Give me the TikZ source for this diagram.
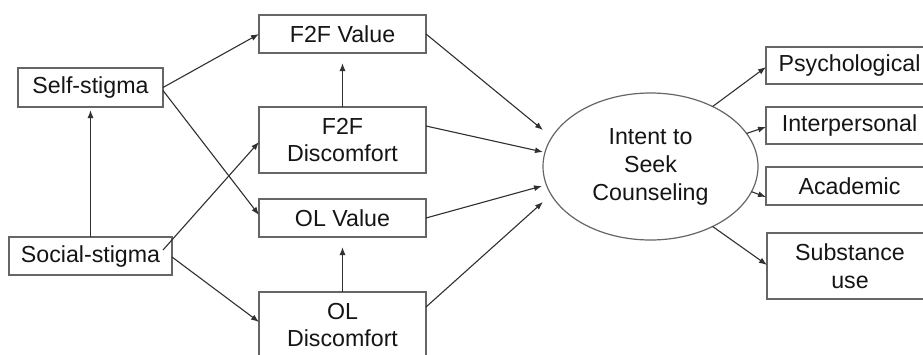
\documentclass[tikz,border=0pt]{standalone}
\usepackage{fontspec}
\setmainfont{Liberation Sans}
\usetikzlibrary{arrows.meta,shapes.geometric}
\definecolor{edgegray}{HTML}{666666}
\definecolor{linegray}{HTML}{303030}
\definecolor{txtgray}{HTML}{151515}
\begin{document}
\begin{tikzpicture}[x=1pt,y=-1pt,
  box/.style={draw=edgegray,line width=1.2pt,fill=white,inner sep=0pt,outer sep=0pt,
    align=center,text=txtgray,font=\fontsize{23.2}{27.5}\selectfont},
  latent/.style={ellipse,draw=edgegray,line width=1.2pt,fill=white,inner sep=0pt,outer sep=0pt,
    minimum width=215pt,minimum height=147pt,align=center,text=txtgray,
    font=\fontsize{23.2}{28}\selectfont},
  path/.style={draw=linegray,line width=1.1pt,-{Latex[length=8pt,width=6pt]}}]
\useasboundingbox (0,0) rectangle (923,354);

% predictors
\node[box,minimum width=145pt,minimum height=39pt] (self) at (90.5,87.5) {Self-stigma};
\node[box,minimum width=163pt,minimum height=38pt] (social) at (90.5,256) {Social-stigma};

% mediators
\node[box,minimum width=167pt,minimum height=38pt] (f2fv) at (342.5,34) {F2F Value};
\node[box,minimum width=167pt,minimum height=66pt] (f2fd) at (342.5,140) {F2F\\Discomfort};
\node[box,minimum width=167pt,minimum height=38pt] (olv) at (342.5,218) {OL Value};
\node[box,minimum width=167pt,minimum height=66pt] (old) at (342.5,325) {OL\\Discomfort};

% outcome (latent)
\node[latent] (intent) at (650.5,166.5) {Intent to\\Seek\\Counseling};

% indicators
\node[box,minimum width=167pt,minimum height=37pt] (psy) at (849.5,65.5) {Psychological};
\node[box,minimum width=167pt,minimum height=37pt] (inter) at (849.5,125.5) {Interpersonal};
\node[box,minimum width=167pt,minimum height=38pt] (acad) at (849.5,186) {Academic};
\node[box,minimum width=166pt,minimum height=66pt] (subs) at (850,266) {Substance\\use};

% arrow ends in front of the ellipse
\coordinate (in1) at (543,130);
\coordinate (in2) at (543,152);
\coordinate (in3) at (542,186);
\coordinate (in4) at (543,202);

% stigma paths
\draw[path] (self.east) -- (f2fv.west);
\draw[path] ([yshift=-3pt]self.east) -- ([yshift=3pt]olv.west);
\draw[path,shorten >=3pt] (social.north) -- (self.south);
\draw[path] ([shift={(-9pt,6pt)}]social.east) -- ([yshift=-2pt]f2fd.west);
\draw[path] ([yshift=-1pt]social.east) -- ([yshift=3pt]old.west);

% discomfort to value
\draw[path,shorten >=10pt] (f2fd.north) -- (f2fv.south);
\draw[path,shorten >=10pt] (old.north) -- (olv.south);

% mediators to intent
\draw[path] (f2fv.east) -- (in1);
\draw[path] ([yshift=14pt]f2fd.east) -- (in2);
\draw[path] (olv.east) -- (in3);
\draw[path] ([yshift=18pt]old.east) -- (in4);

% intent to indicators
\draw[path] (intent.44.5) -- ([yshift=-1.5pt]psy.west);
\draw[path] (intent.19.7) -- ([yshift=-1.5pt]inter.west);
\draw[path] (intent.-14.5) -- ([yshift=-11pt]acad.west);
\draw[path] (intent.-44.5) -- ([yshift=1pt]subs.west);
\end{tikzpicture}
\end{document}
